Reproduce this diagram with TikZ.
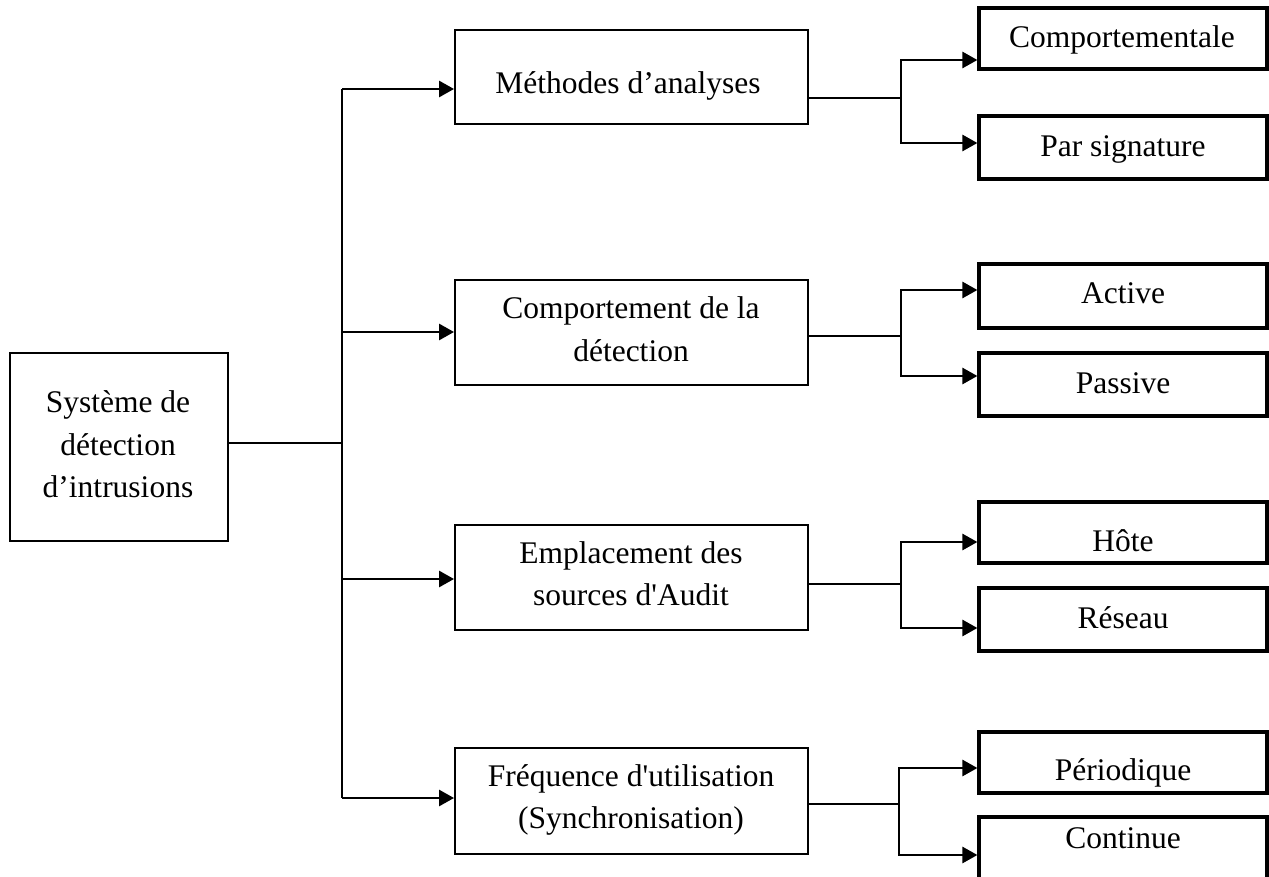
\documentclass[tikz,border=0pt]{standalone}
\usepackage{fontspec}
\setmainfont{Liberation Serif}[Ligatures=TeXOff]
\usetikzlibrary{arrows.meta}
\begin{document}
\begin{tikzpicture}[x=1pt,y=-1pt,
  box/.style={draw, line width=1.9pt, inner sep=0pt},
  leaf/.style={draw, line width=3.2pt, inner sep=0pt, minimum width=288pt},
  txt/.style={font=\fontsize{31.5}{42.5}\selectfont, inner sep=0pt, anchor=base},
  conn/.style={line width=2.7pt},
  thin/.style={line width=2.1pt},
  arr/.style={conn, -{Triangle[length=15pt,width=16pt]}}]
\useasboundingbox (0,0) rectangle (1269,877);
% root
\node[box, minimum width=218pt, minimum height=188pt] (root) at (119,447) {};
\node[txt] (rt1) at (118,412) {Système de};
\node[txt] (rt2) at (118,455) {détection};
\node[txt] (rt3) at (118,497) {d’intrusions};
% middle boxes
\node[box, minimum width=353pt, minimum height=94pt] (m1) at (631.5,77) {};
\node[txt] (m1t) at (628,94) {Méthodes d’analyses};
\node[box, minimum width=353pt, minimum height=105pt] (m2) at (631.5,332.5) {};
\node[txt] (m2t1) at (631,319) {Comportement de la};
\node[txt] (m2t2) at (631,361) {détection};
\node[box, minimum width=353pt, minimum height=105pt] (m3) at (631.5,577.5) {};
\node[txt] (m3t1) at (631,563) {Emplacement des};
\node[txt] (m3t2) at (631,605) {sources d'Audit};
\node[box, minimum width=353pt, minimum height=106pt] (m4) at (631.5,801) {};
\node[txt] (m4t1) at (631,786) {Fréquence d'utilisation};
\node[txt] (m4t2) at (631,828) {(Synchronisation)};
% leaf boxes
\node[leaf, minimum height=61pt] (r1) at (1123,38.5) {};
\node[txt] (r1t) at (1122,48) {Comportementale};
\node[leaf, minimum height=63pt] (r2) at (1123,147.5) {};
\node[txt] (r2t) at (1123,157) {Par signature};
\node[leaf, minimum height=64pt] (r3) at (1123,296) {};
\node[txt] (r3t) at (1123,304) {Active};
\node[leaf, minimum height=63pt] (r4) at (1123,384.5) {};
\node[txt] (r4t) at (1123,393) {Passive};
\node[leaf, minimum height=61pt] (r5) at (1123,532.5) {};
\node[txt] (r5t) at (1123,551) {Hôte};
\node[leaf, minimum height=63pt] (r6) at (1123,619.5) {};
\node[txt] (r6t) at (1123,628) {Réseau};
\node[leaf, minimum height=61pt] (r7) at (1123,762.5) {};
\node[txt] (r7t) at (1123,780) {Périodique};
\node[leaf, minimum height=74pt] (r8) at (1123,854) {};
\node[txt] (r8t) at (1123,848) {Continue};
% trunk
\coordinate (j0) at (342,443);
\coordinate (t1) at (342,89);
\coordinate (t2) at (342,332);
\coordinate (t3) at (342,579);
\coordinate (t4) at (342,798);
\draw[thin] (root.east |- j0) -- (j0);
\draw[conn] (t1) -- (t4);
\draw[arr] (t1) -- (m1.west |- t1);
\draw[arr] (t2) -- (m2.west |- t2);
\draw[arr] (t3) -- (m3.west |- t3);
\draw[arr] (t4) -- (m4.west |- t4);
% branches
\coordinate (b1) at (901,98);  \coordinate (a1) at (901,60);  \coordinate (c1) at (901,143);
\coordinate (b2) at (901,336); \coordinate (a2) at (901,290); \coordinate (c2) at (901,376);
\coordinate (b3) at (901,584); \coordinate (a3) at (901,542); \coordinate (c3) at (901,628);
\coordinate (b4) at (899,804); \coordinate (a4) at (899,768); \coordinate (c4) at (899,855);
\draw[thin] (m1.east |- b1) -- (b1);
\draw[thin] (m2.east |- b2) -- (b2);
\draw[thin] (m3.east |- b3) -- (b3);
\draw[thin] (m4.east |- b4) -- (b4);
\draw[arr] (b1) |- (r1.west |- a1);
\draw[arr] (b1) |- (r2.west |- c1);
\draw[arr] (b2) |- (r3.west |- a2);
\draw[arr] (b2) |- (r4.west |- c2);
\draw[arr] (b3) |- (r5.west |- a3);
\draw[arr] (b3) |- (r6.west |- c3);
\draw[arr] (b4) |- (r7.west |- a4);
\draw[arr] (b4) |- (r8.west |- c4);
\end{tikzpicture}
\end{document}
